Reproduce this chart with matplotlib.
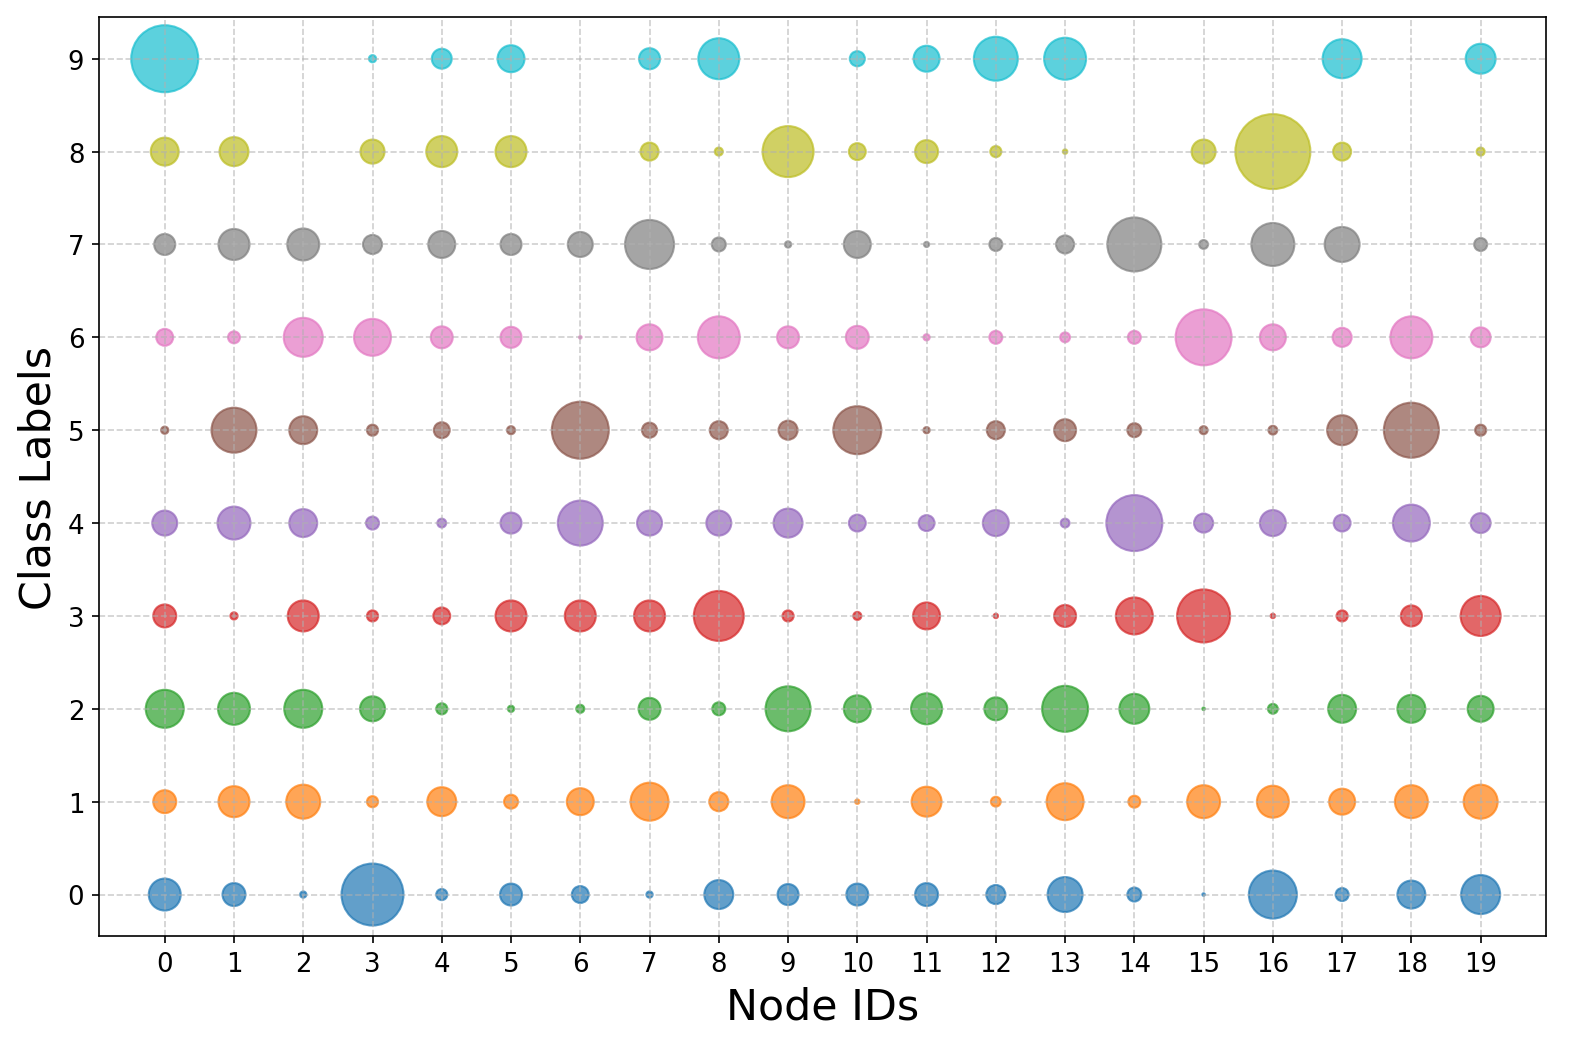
import numpy as np
import matplotlib
matplotlib.use("Agg")
import matplotlib.pyplot as plt

node_ids = list(range(20))
class_labels = list(range(10))

# scores per class (row) for each node (column), 0 = not drawn
class_0 = [0.157, 0.081, 0.006, 0.590, 0.019, 0.074, 0.044, 0.006, 0.129, 0.068,
           0.074, 0.081, 0.056, 0.188, 0.030, 0.001, 0.354, 0.026, 0.120, 0.234]
class_1 = [0.081, 0.148, 0.178, 0.019, 0.129, 0.030, 0.112, 0.222, 0.056, 0.167,
           0.003, 0.138, 0.015, 0.210, 0.022, 0.167, 0.157, 0.104, 0.167, 0.178]
class_2 = [0.222, 0.157, 0.222, 0.096, 0.019, 0.006, 0.010, 0.074, 0.026, 0.311,
           0.112, 0.148, 0.081, 0.325, 0.138, 0.001, 0.015, 0.120, 0.120, 0.104]
class_3 = [0.081, 0.008, 0.148, 0.019, 0.044, 0.148, 0.148, 0.148, 0.384, 0.019,
           0.010, 0.112, 0.003, 0.074, 0.210, 0.432, 0.003, 0.019, 0.068, 0.246]
class_4 = [0.096, 0.167, 0.120, 0.026, 0.012, 0.068, 0.311, 0.096, 0.096, 0.129,
           0.044, 0.039, 0.104, 0.012, 0.482, 0.056, 0.104, 0.044, 0.210, 0.061]
class_5 = [0.008, 0.311, 0.120, 0.019, 0.039, 0.010, 0.499, 0.035, 0.050, 0.056,
           0.354, 0.006, 0.050, 0.074, 0.030, 0.010, 0.012, 0.138, 0.465, 0.019]
class_6 = [0.044, 0.022, 0.234, 0.210, 0.074, 0.068, 0.001, 0.104, 0.271, 0.074,
           0.081, 0.006, 0.026, 0.015, 0.026, 0.482, 0.104, 0.056, 0.271, 0.061]
class_7 = [0.068, 0.148, 0.157, 0.056, 0.112, 0.068, 0.096, 0.369, 0.030, 0.006,
           0.112, 0.004, 0.026, 0.050, 0.448, 0.012, 0.284, 0.188, 0.000, 0.026]
class_8 = [0.120, 0.129, 0.000, 0.089, 0.148, 0.148, 0.000, 0.050, 0.010, 0.400,
           0.044, 0.081, 0.019, 0.003, 0.000, 0.089, 0.864, 0.050, 0.000, 0.010]
class_9 = [0.690, 0.000, 0.000, 0.008, 0.061, 0.112, 0.000, 0.068, 0.258, 0.000,
           0.035, 0.104, 0.297, 0.271, 0.000, 0.000, 0.000, 0.234, 0.000, 0.138]

scores = [class_0, class_1, class_2, class_3, class_4,
          class_5, class_6, class_7, class_8, class_9]

size_scale = 1500

fig, ax = plt.subplots(figsize=(10.52, 7.013), dpi=150)
fig.subplots_adjust(left=0.0627, right=0.980, top=0.983, bottom=0.109)

for c, row in zip(class_labels, scores):
    row = np.array(row)
    keep = row > 0
    x = np.array(node_ids)[keep]
    ax.scatter(x, np.full(len(x), c), s=row[keep] * size_scale,
               color=f"C{c}", alpha=0.7)

ax.set_xticks(node_ids)
ax.set_yticks(class_labels)
ax.tick_params(labelsize=12.5)
ax.set_xlabel("Node IDs", fontsize=20.5)
ax.set_ylabel("Class Labels", fontsize=20.5)
ax.grid(True, linestyle="--", alpha=0.6)

fig.savefig("out.png", dpi=150)
